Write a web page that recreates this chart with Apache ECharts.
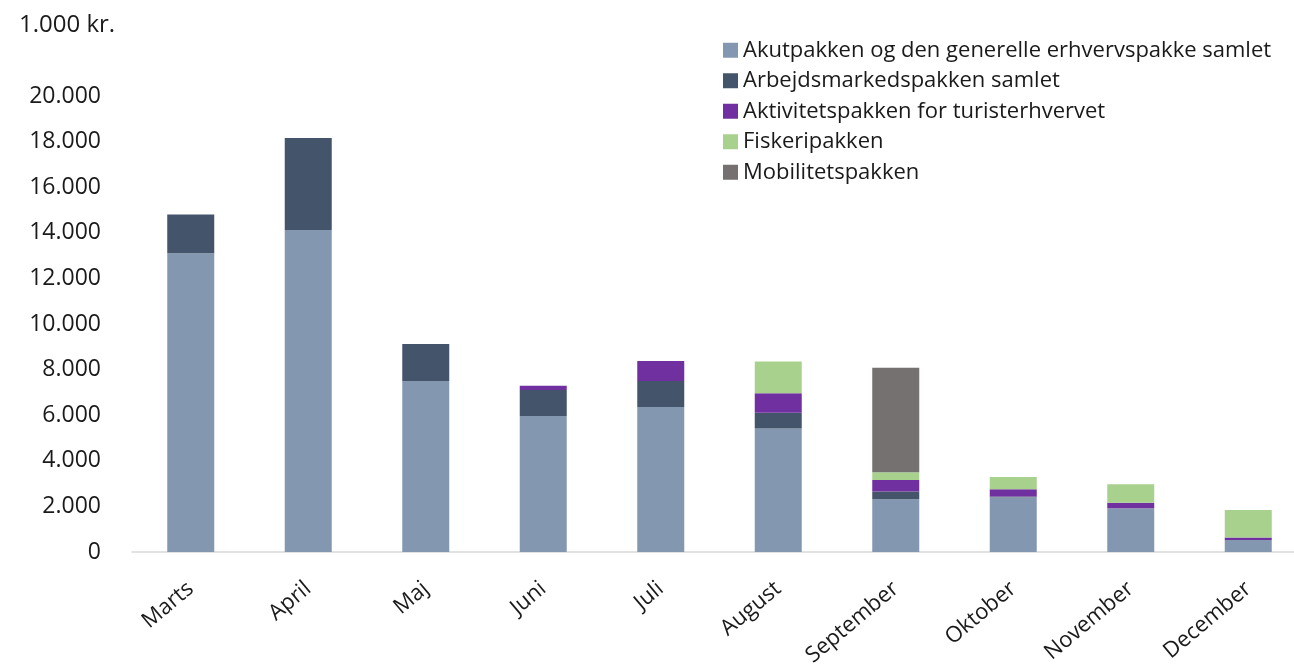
<!DOCTYPE html>
<html>
<head>
<meta charset="utf-8">
<script src="https://cdn.jsdelivr.net/npm/echarts@6/dist/echarts.min.js"></script>
<style>
  html, body { margin: 0; padding: 0; background: #fff; }
  #chart { width: 1294px; height: 664px; }
</style>
</head>
<body>
<div id="chart"></div>
<script>
var months = ['Marts', 'April', 'Maj', 'Juni', 'Juli', 'August', 'September', 'Oktober', 'November', 'December'];
var yTicks = [0, 2000, 4000, 6000, 8000, 10000, 12000, 14000, 16000, 18000, 20000];

// 1.000 kr.
var akut      = [13100, 14120, 7500, 5960, 6360, 5420, 2310, 2400, 1920, 530];
var arbejde   = [1700, 4040, 1620, 1150, 1140, 690, 340, 30, 0, 0];
var aktivitet = [0, 0, 0, 180, 880, 850, 510, 320, 240, 110];
var fiskeri   = [0, 0, 0, 0, 0, 1390, 340, 540, 810, 1200];
var mobilitet = [0, 0, 0, 0, 0, 0, 4580, 0, 0, 0];

var names = [
    'Akutpakken og den generelle erhvervspakke samlet',
    'Arbejdsmarkedspakken samlet',
    'Aktivitetspakken for turisterhvervet',
    'Fiskeripakken',
    'Mobilitetspakken'
];
var colors = ['#8497B0', '#44546A', '#7030A0', '#A9D18E', '#767171'];
var values = [akut, arbejde, aktivitet, fiskeri, mobilitet];

var font = '"Open Sans", "Noto Sans", sans-serif';

var chart = echarts.init(document.getElementById('chart'));

function fmt(v) {
    return String(v).replace(/\B(?=(\d{3})+(?!\d))/g, '.');
}

var series = [];
for (var i = 0; i < names.length; i++) {
    series.push({
        name: names[i],
        type: 'bar',
        stack: 'total',
        barWidth: 47,
        data: values[i],
        itemStyle: { color: colors[i] }
    });
}

var option = {
    animation: false,
    color: colors,
    title: {
        text: '1.000 kr.',
        left: 14,
        top: 8,
        textStyle: { fontFamily: font, fontSize: 24, fontWeight: 'normal', color: '#1a1a1a' }
    },
    legend: {
        orient: 'vertical',
        left: 718,
        top: 34,
        itemWidth: 15,
        itemHeight: 15,
        itemGap: 8,
        icon: 'rect',
        data: names,
        textStyle: { fontFamily: font, fontSize: 22, color: '#1a1a1a', lineHeight: 22.5, padding: [0, 0, 0, 0] }
    },
    grid: { left: 132, top: 96, width: 1175, height: 456, outerBoundsMode: 'none', containLabel: false },
    xAxis: {
        type: 'category',
        data: months,
        axisTick: { show: false },
        axisLine: { lineStyle: { color: '#d9d9d9', width: 1.5 } },
        axisLabel: {
            rotate: 40,
            margin: 34,
            interval: 0,
            fontFamily: font,
            fontSize: 22,
            color: '#1a1a1a'
        }
    },
    yAxis: {
        type: 'value',
        min: yTicks[0],
        max: yTicks[yTicks.length - 1],
        interval: 2000,
        splitLine: { show: false },
        axisLine: { show: false },
        axisTick: { show: false },
        axisLabel: {
            margin: 31,
            fontFamily: font,
            fontSize: 23,
            color: '#1a1a1a',
            formatter: function (v) { return fmt(v); }
        }
    },
    series: series
};

chart.setOption(option);
</script>
</body>
</html>
